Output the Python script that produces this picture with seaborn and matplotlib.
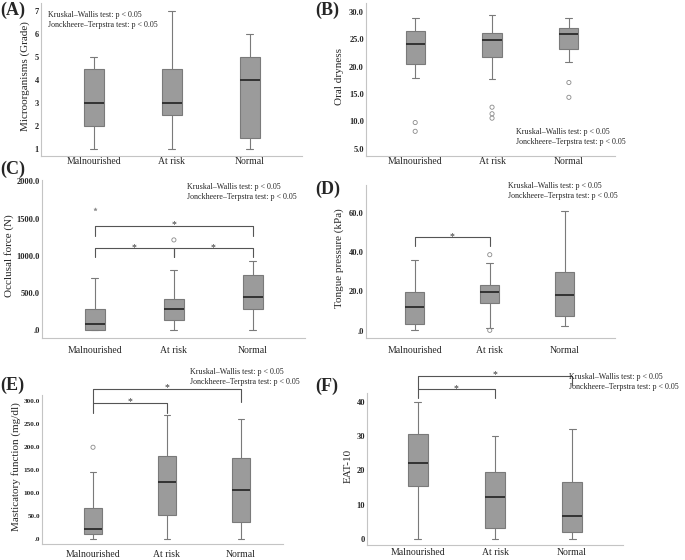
import numpy as np
import pandas as pd
import matplotlib
matplotlib.use("Agg")
import matplotlib.pyplot as plt
from matplotlib.ticker import FixedLocator, FuncFormatter
import seaborn as sns

W, H = 685, 560

groups = ["Malnourished", "At risk", "Normal"]

# five-number summaries: low whisker, Q1, median, Q3, high whisker
micro_box = [[1, 2, 3, 4.5, 5], [1, 2.5, 3, 4.5, 7], [1, 1.5, 4, 5, 6]]
dry_box = [[17.9, 20.4, 24.2, 26.5, 28.8], [17.7, 21.8, 24.8, 26.2, 29.5], [20.8, 23.3, 26.0, 27.1, 28.8]]
occl_box = [[0, 9, 80, 290, 700], [0, 134, 280, 418, 806], [0, 280, 450, 744, 935]]
tongue_box = [[0.3, 3.4, 12.2, 19.8, 36.1], [1.4, 14.2, 19.5, 23.4, 34.4], [2.5, 7.5, 18.0, 30.0, 60.8]]
mast_box = [[0, 10, 22, 67, 147], [0, 52, 124, 181, 271], [0, 38, 107, 176, 262]]
eat_box = [[0, 15.5, 22, 30.6, 40], [0, 3, 12.1, 19.6, 30], [0, 2, 6.6, 16.5, 32.1]]

# outliers (circles) and extremes (stars)
dry_out = [[9.8, 8.2], [12.6, 11.4, 10.6], [17.1, 14.4]]
occl_out = [[], [1215], []]
occl_ext = [[1634], [], []]
tongue_out = [[], [38.6, 0.2], []]
mast_out = [[200], [], []]

# significance brackets: group i, group j, bracket height, left drop, right drop
occl_sig = [(0, 1, 1104, 120, 120), (1, 2, 1104, 125, 125), (0, 2, 1407, 134, 134)]
tongue_sig = [(0, 1, 47.5, 4.6, 4.6)]
mast_sig = [(0, 1, 297, 22, 22), (0, 2, 327, 30, 29)]
eat_sig = [(0, 1, 43.7, 2.5, 2.5), (0, 2, 47.6, 3.9, 2.6)]

micro_ticks = [1, 2, 3, 4, 5, 6, 7]
dry_ticks = [5, 10, 15, 20, 25, 30]
occl_ticks = [0, 500, 1000, 1500, 2000]
tongue_ticks = [0, 20, 40, 60]
mast_ticks = [0, 50, 100, 150, 200, 250, 300]
eat_ticks = [0, 10, 20, 30, 40]

kw_text = "Kruskal\u2013Wallis test: p < 0.05"
jt_text = "Jonckheere\u2013Terpstra test: p < 0.05"


def frame(lists):
    rows = [(g, v) for g, vals in zip(groups, lists) for v in vals]
    return pd.DataFrame(rows, columns=["group", "value"])


def spss_fmt(v, pos):
    return ".0" if v == 0 else f"{v:.1f}"


def int_fmt(v, pos):
    return f"{v:.0f}"


# panel layout in pixels: left, right, top, bottom; xlim; ylim
panels = [
    dict(label="(A)", lab_xy=(0, 10), box=micro_box, ticks=micro_ticks, fmt=int_fmt,
         ylabel="Microorganisms (Grade)", px=(41, 302, 3, 156), xlim=(-0.68, 2.67), ylim=(0.7, 7.35),
         ylab_x=-0.044, xpad=1, text_xy=(48, 15), tsize=6),
    dict(label="(B)", lab_xy=(315, 10), box=dry_box, out=dry_out, ticks=dry_ticks, fmt=spss_fmt,
         ylabel="Oral dryness", px=(366, 615, 3, 156), xlim=(-0.64, 2.6), ylim=(3.7, 31.6),
         ylab_x=-0.088, xpad=1, text_xy=(516, 132), tsize=6),
    dict(label="(C)", lab_xy=(0, 169), box=occl_box, out=occl_out, ext=occl_ext, sig=occl_sig,
         ticks=occl_ticks, fmt=spss_fmt, ylabel="Occlusal force (N)", px=(42, 305, 180, 338),
         xlim=(-0.67, 2.66), ylim=(-103, 2020), ylab_x=-0.105, xpad=5.5, text_xy=(187, 187), tsize=6),
    dict(label="(D)", lab_xy=(315, 189), box=tongue_box, out=tongue_out, sig=tongue_sig,
         ticks=tongue_ticks, fmt=spss_fmt, ylabel="Tongue pressure (kPa)", px=(366, 615, 185, 338),
         xlim=(-0.65, 2.67), ylim=(-3.7, 74), ylab_x=-0.09, xpad=5.5, text_xy=(508, 186), tsize=6),
    dict(label="(E)", lab_xy=(0, 385), box=mast_box, out=mast_out, sig=mast_sig,
         ticks=mast_ticks, fmt=spss_fmt, ylabel="Masticatory function (mg/dl)", px=(42, 283, 395, 544),
         xlim=(-0.69, 2.57), ylim=(-11, 314), ylab_x=-0.088, xpad=4, text_xy=(190, 372), tsize=5.2),
    dict(label="(F)", lab_xy=(315, 386), box=eat_box, sig=eat_sig, ticks=eat_ticks, fmt=int_fmt,
         ylabel="EAT-10", px=(367, 623, 393, 545), xlim=(-0.66, 2.66), ylim=(-1.84, 42.6),
         ylab_x=-0.057, xpad=2.5, text_xy=(569, 377), tsize=6),
]

sns.set_style("white")
plt.rcParams["font.family"] = ["Liberation Serif", "DejaVu Serif"]

fig = plt.figure(figsize=(W / 100, H / 100), dpi=100)

line_col = "#7a7a7a"
for p in panels:
    l, r, t, b = p["px"]
    ax = fig.add_axes([l / W, 1 - b / H, (r - l) / W, (b - t) / H])

    sns.boxplot(data=frame(p["box"]), x="group", y="value", order=groups, ax=ax,
                width=0.25, whis=(0, 100), color="#9b9b9b", saturation=1,
                linecolor=line_col, linewidth=0.8, showfliers=False, capwidths=0.09,
                medianprops={"color": "#2b2b2b", "linewidth": 1.3})

    if "out" in p:
        sns.stripplot(data=frame(p["out"]), x="group", y="value", order=groups, ax=ax,
                      jitter=False, size=3, marker="o", facecolor="none",
                      edgecolor="#8a8a8a", linewidth=0.6, color="#8a8a8a")
    if "ext" in p:
        sns.stripplot(data=frame(p["ext"]), x="group", y="value", order=groups, ax=ax,
                      jitter=False, size=2.5, marker="*", color="#8a8a8a",
                      edgecolor="#8a8a8a", linewidth=0.3)

    for i, j, top, dl, dr in p.get("sig", []):
        ax.plot([i, i, j, j], [top - dl, top, top, top - dr], color="#555555",
                lw=0.8, clip_on=False, solid_joinstyle="round")
        ax.annotate("*", xy=((i + j) / 2, top), xytext=(0, -2.5), textcoords="offset points",
                    ha="center", va="bottom", fontsize=7, color="#333333", annotation_clip=False)

    ax.set_xlim(*p["xlim"])
    ax.set_ylim(*p["ylim"])
    ax.yaxis.set_major_locator(FixedLocator(p["ticks"]))
    ax.yaxis.set_major_formatter(FuncFormatter(p["fmt"]))
    ax.tick_params(axis="y", length=0, pad=1.5, labelsize=p["tsize"])
    ax.tick_params(axis="x", length=0, pad=p["xpad"], labelsize=7)
    for lab in ax.get_yticklabels():
        lab.set_fontweight("bold")
    ax.set_xlabel("")
    ax.set_ylabel(p["ylabel"], fontsize=8)
    ax.yaxis.set_label_coords(p["ylab_x"], 0.52)
    for s in ["top", "right"]:
        ax.spines[s].set_visible(False)
    for s in ["left", "bottom"]:
        ax.spines[s].set_color("#c4c4c4")
        ax.spines[s].set_linewidth(0.8)

    fig.text(p["lab_xy"][0] / W, 1 - p["lab_xy"][1] / H, p["label"], fontsize=13,
             fontweight="bold", va="center", ha="left")
    tx, ty = p["text_xy"]
    fig.text(tx / W, 1 - ty / H, kw_text, fontsize=5.8, va="center", ha="left")
    fig.text(tx / W, 1 - (ty + 10) / H, jt_text, fontsize=5.8, va="center", ha="left")

fig.savefig("out.png", dpi=100)
